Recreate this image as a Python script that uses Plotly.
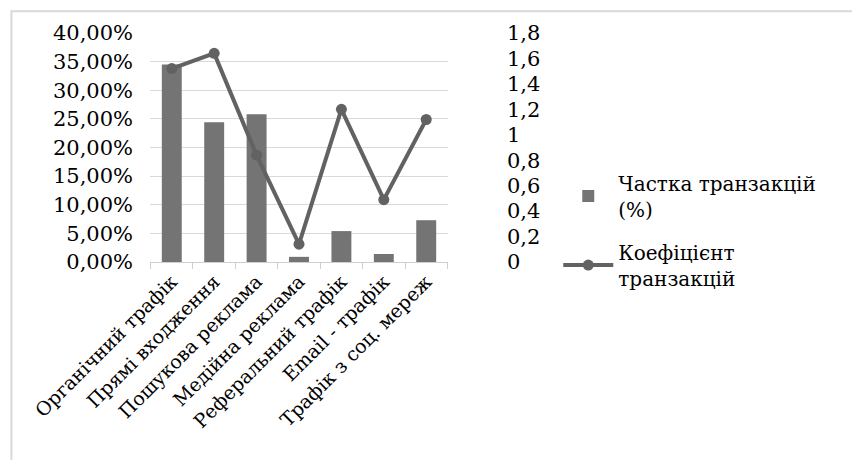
import plotly.graph_objects as go

categories = ["Органічний трафік", "Прямі входження", "Пошукова реклама", "Медійна реклама",
              "Реферальний трафік", "Email - трафік", "Трафік з соц. мереж"]
share_pct = [0.345, 0.244, 0.258, 0.009, 0.054, 0.014, 0.073]
coef = [1.52, 1.64, 0.84, 0.14, 1.20, 0.49, 1.12]
left_ticks = [0, 0.05, 0.10, 0.15, 0.20, 0.25, 0.30, 0.35, 0.40]
right_ticks = [0, 0.2, 0.4, 0.6, 0.8, 1.0, 1.2, 1.4, 1.6, 1.8]
right_labels = ["0", "0,2", "0,4", "0,6", "0,8", "1", "1,2", "1,4", "1,6", "1,8"]

FONT = "DejaVu Serif"
fig = go.Figure()
fig.add_trace(go.Bar(x=categories, y=share_pct, name="Частка транзакцій<br>(%)", legendgroup="a",
                     marker=dict(color="#747474", line=dict(width=0)), width=0.47))
fig.add_trace(go.Scatter(x=categories, y=coef, name="Коефіцієнт<br>транзакцій", yaxis="y2",
                         legendgroup="b", mode="lines+markers",
                         line=dict(color="#626262", width=4),
                         marker=dict(color="#626262", size=11)))

fig.update_layout(
    width=852, height=460, paper_bgcolor="white", plot_bgcolor="white",
    separators=", ",
    margin=dict(l=150, r=404, t=33, b=198),
    font=dict(family=FONT, size=20, color="#000000"),
    xaxis=dict(showline=True, linecolor="#d0d0d0", linewidth=1, ticks="outside", ticklen=6,
               tickcolor="#d0d0d0", tickson="boundaries", tickangle=-45,
               tickfont=dict(size=19, family=FONT), showgrid=False),
    yaxis=dict(range=[0, 0.40], tickvals=left_ticks, tickformat=".2%", showgrid=True,
               gridcolor="#d9d9d9", gridwidth=1, zeroline=False, ticks="",
               ticklabelstandoff=16, tickfont=dict(size=21, family=FONT)),
    yaxis2=dict(range=[0, 1.8], overlaying="y", side="right", tickvals=right_ticks,
                ticktext=right_labels, showgrid=False, zeroline=False, ticks="",
                ticklabelstandoff=58, tickfont=dict(size=21, family=FONT)),
    legend=dict(x=1.37, y=0.43, xanchor="left", yanchor="top", font=dict(size=20, family=FONT),
                tracegroupgap=14, itemwidth=50),
    showlegend=True,
    shapes=[dict(type="rect", xref="paper", yref="paper", x0=-0.465, x1=2.45, y0=-0.95, y1=1.095,
                 line=dict(color="#d9d9d9", width=2))],
)
fig.write_html("out.html")
